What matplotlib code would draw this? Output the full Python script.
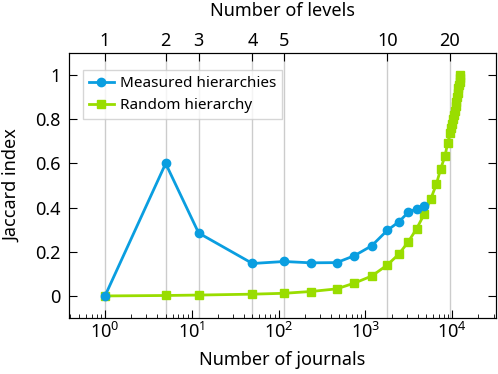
import matplotlib
matplotlib.use("Agg")
import matplotlib.pyplot as plt
from matplotlib.ticker import NullLocator, FixedLocator

plt.rcParams["font.family"] = ["Noto Sans", "DejaVu Sans"]
plt.rcParams["font.size"] = 13

# ── Data ─────────────────────────────────────────────────────────────────
measured_journals = [1, 5, 12, 50, 116, 234, 467, 745, 1182, 1787, 2438, 3120, 3900, 4770]
measured_jaccard = [0.0, 0.60, 0.285, 0.147, 0.156, 0.150, 0.151, 0.182, 0.227, 0.297,
                    0.336, 0.379, 0.395, 0.409]

random_journals = [1, 5, 12, 50, 116, 234, 467, 745, 1182, 1787, 2438, 3120, 3900, 4770,
                   5650, 6590, 7370, 8260, 8880, 9440, 9750, 10000, 10250, 10500, 10750,
                   11000, 11200, 11400, 11600, 11800, 12000, 12150, 12300, 12450]
random_jaccard = [0.0, 0.002, 0.004, 0.008, 0.012, 0.020, 0.032, 0.058, 0.090, 0.140,
                  0.190, 0.245, 0.305, 0.371, 0.438, 0.507, 0.576, 0.633, 0.694, 0.736,
                  0.76, 0.78, 0.80, 0.82, 0.84, 0.86, 0.88, 0.90, 0.92, 0.94, 0.955,
                  0.97, 0.985, 1.0]

level_labels = ["1", "2", "3", "4", "5", "10", "20"]
level_journals = [1, 5, 12, 50, 116, 1787, 9440]

BLUE = "#0a9ee0"
GREEN = "#99dd00"

fig = plt.figure(figsize=(4.98, 3.74), dpi=100)
ax = fig.add_axes([0.1386, 0.1497, 0.8574, 0.7083])

# vertical guides at the level positions
for x in level_journals:
    ax.axvline(x, color="#cccccc", lw=1, zorder=0)

ax.plot(measured_journals, measured_jaccard, "-o", color=BLUE, lw=2, ms=6,
        label="Measured hierarchies", zorder=3)
ax.plot(random_journals, random_jaccard, "-s", color=GREEN, lw=2, ms=5.5,
        label="Random hierarchy", zorder=2)

ax.set_xscale("log")
ax.set_xlim(0.385, 32000)
ax.set_ylim(-0.1, 1.1)
ax.set_yticks([0, 0.2, 0.4, 0.6, 0.8, 1.0])
ax.set_yticklabels(["0", "0.2", "0.4", "0.6", "0.8", "1"])
ax.set_xlabel("Number of journals", labelpad=6)
ax.set_ylabel("Jaccard index", labelpad=10)
ax.tick_params(which="both", direction="in", right=True, top=False)
ax.tick_params(axis="y", pad=6)
ax.tick_params(axis="x", pad=3)
ax.tick_params(which="major", length=6)
ax.tick_params(which="minor", length=3)

# top axis: number of levels
top = ax.twiny()
top.set_xscale("log")
top.set_xlim(ax.get_xlim())
top.xaxis.set_major_locator(FixedLocator(level_journals))
top.xaxis.set_minor_locator(NullLocator())
top.set_xticklabels(level_labels)
top.set_xlabel("Number of levels", labelpad=12)
top.tick_params(direction="in", length=6, pad=2)

ax.legend(loc="upper left", bbox_to_anchor=(0.033, 0.936), borderaxespad=0,
          fontsize=11, handlelength=1.6, handletextpad=0.4, borderpad=0.4,
          labelspacing=0.45, fancybox=False, edgecolor="#cccccc")

fig.savefig("out.png", dpi=100)
